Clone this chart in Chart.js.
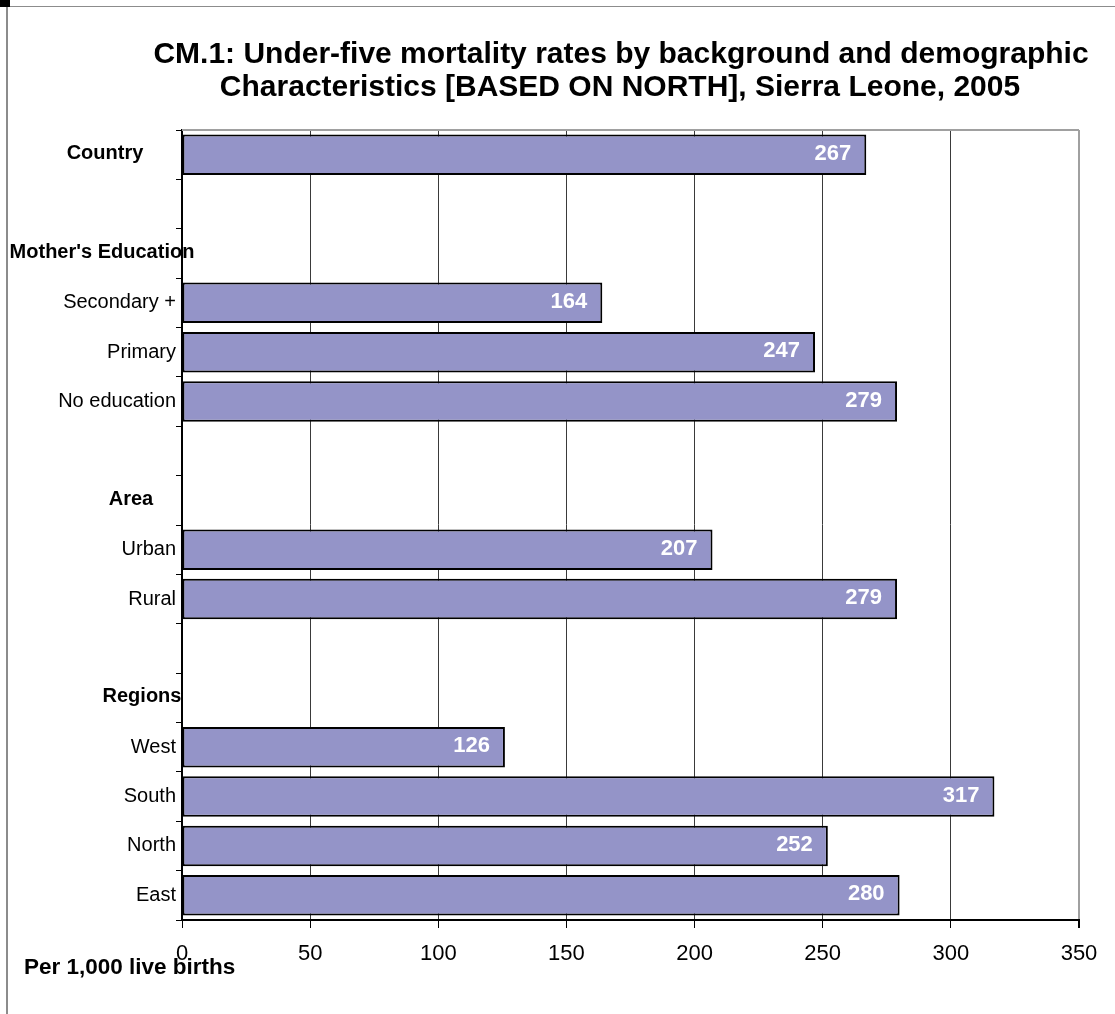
<!DOCTYPE html>
<html>
<head>
<meta charset="utf-8">
<script src="https://cdn.jsdelivr.net/npm/chart.js@4"></script>
<style>
    html, body { margin: 0; padding: 0; background: #fff; overflow: hidden; }
    #page { position: relative; width: 1115px; height: 1014px; }
    #frame { position: absolute; left: 6px; top: 6px; width: 1200px; height: 1100px;
             border-left: 2px solid #8c8c8c; border-top: 1px solid #8c8c8c; }
    #corner { position: absolute; left: 0; top: 0; width: 10px; height: 7px; background: #000; }
    #chart { position: absolute; left: 0; top: 0; }
</style>
</head>
<body>
<div id="page">
    <div id="frame"></div>
    <div id="corner"></div>
    <canvas id="chart" width="1115" height="1014"></canvas>
</div>
<script>
// Categories top to bottom; blank entries are spacer rows between groups
const categories = ['Country', '', "Mother's Education", 'Secondary +', 'Primary', 'No education', '',
    'Area', 'Urban', 'Rural', '', 'Regions', 'West', 'South', 'North', 'East'];
const groupHeaders = ['Country', "Mother's Education", 'Area', 'Regions'];
const rates = [267, null, null, 164, 247, 279, null, null, 207, 279, null, null, 126, 317, 252, 280];
const xTicks = [0, 50, 100, 150, 200, 250, 300, 350];

const titleLines = ['CM.1: Under-five mortality rates by background and demographic',
    'Characteristics [BASED ON NORTH], Sierra Leone, 2005'];
const unitLabel = 'Per 1,000 live births';

const FONT = "'Liberation Sans', Arial, sans-serif";

// horizontal centre of each bold group header
const headerCenterX = { 'Country': 105, "Mother's Education": 102, 'Area': 131, 'Regions': 142 };

const extrasPlugin = {
    id: 'extras',
    afterDraw(chart) {
        const ctx = chart.ctx;
        const area = chart.chartArea;
        const yScale = chart.scales.y;
        ctx.save();

        // top edge of plot area
        ctx.strokeStyle = '#a0a0a0';
        ctx.lineWidth = 2;
        ctx.beginPath();
        ctx.moveTo(area.left, area.top);
        ctx.lineTo(area.right, area.top);
        ctx.stroke();

        // title
        ctx.fillStyle = '#000';
        ctx.font = 'bold 30px ' + FONT;
        ctx.textAlign = 'center';
        ctx.textBaseline = 'middle';
        ctx.fillText(titleLines[0], 621, 55);
        ctx.fillText(titleLines[1], 620, 88);

        // group headers
        ctx.font = 'bold 20px ' + FONT;
        categories.forEach((c, i) => {
            if (groupHeaders.includes(c)) {
                ctx.fillText(c, headerCenterX[c], yScale.getPixelForValue(i) - 1);
            }
        });

        // unit note under the axis
        ctx.font = 'bold 22.5px ' + FONT;
        ctx.textAlign = 'left';
        ctx.fillText(unitLabel, 24, 968);

        // value labels inside bar ends
        ctx.fillStyle = '#fff';
        ctx.font = 'bold 22px ' + FONT;
        ctx.textAlign = 'right';
        chart.getDatasetMeta(0).data.forEach((bar, i) => {
            if (rates[i] == null) return;
            ctx.fillText(String(rates[i]), bar.x - 15, bar.y - 1);
        });
        ctx.restore();
    }
};

new Chart(document.getElementById('chart'), {
    type: 'bar',
    data: {
        labels: categories,
        datasets: [{
            data: rates,
            backgroundColor: '#9494c8',
            borderColor: '#000',
            borderWidth: 2,
            borderSkipped: false,
            barPercentage: 0.82,
            categoryPercentage: 1
        }]
    },
    options: {
        indexAxis: 'y',
        responsive: false,
        animation: false,
        layout: { padding: { top: 130, right: 36, left: 0, bottom: 0 } },
        plugins: {
            legend: { display: false },
            tooltip: { enabled: false }
        },
        scales: {
            x: {
                min: 0,
                max: 350,
                afterBuildTicks(scale) {
                    scale.ticks = xTicks.map(v => ({ value: v }));
                },
                afterFit(scale) { scale.height = 94; },
                grid: {
                    color: ctx => ctx.tick && ctx.tick.value === 350 ? '#a0a0a0' : '#3a3a3a',
                    lineWidth: ctx => ctx.tick && ctx.tick.value === 350 ? 2 : 1,
                    tickColor: '#000',
                    tickLength: 8,
                    drawTicks: true
                },
                border: { color: '#000', width: 2 },
                ticks: {
                    color: '#000',
                    padding: 13,
                    font: { family: FONT, size: 22 }
                }
            },
            y: {
                afterFit(scale) { scale.width = 182; },
                grid: {
                    offset: true,
                    drawOnChartArea: false,
                    drawTicks: true,
                    tickLength: 6,
                    tickColor: '#000'
                },
                border: { color: '#000', width: 2 },
                ticks: {
                    color: '#000',
                    padding: 0,
                    autoSkip: false,
                    font: { family: FONT, size: 20 },
                    callback(value) {
                        const label = categories[value];
                        return groupHeaders.includes(label) ? '' : label;
                    }
                }
            }
        }
    },
    plugins: [extrasPlugin]
});
</script>
</body>
</html>
